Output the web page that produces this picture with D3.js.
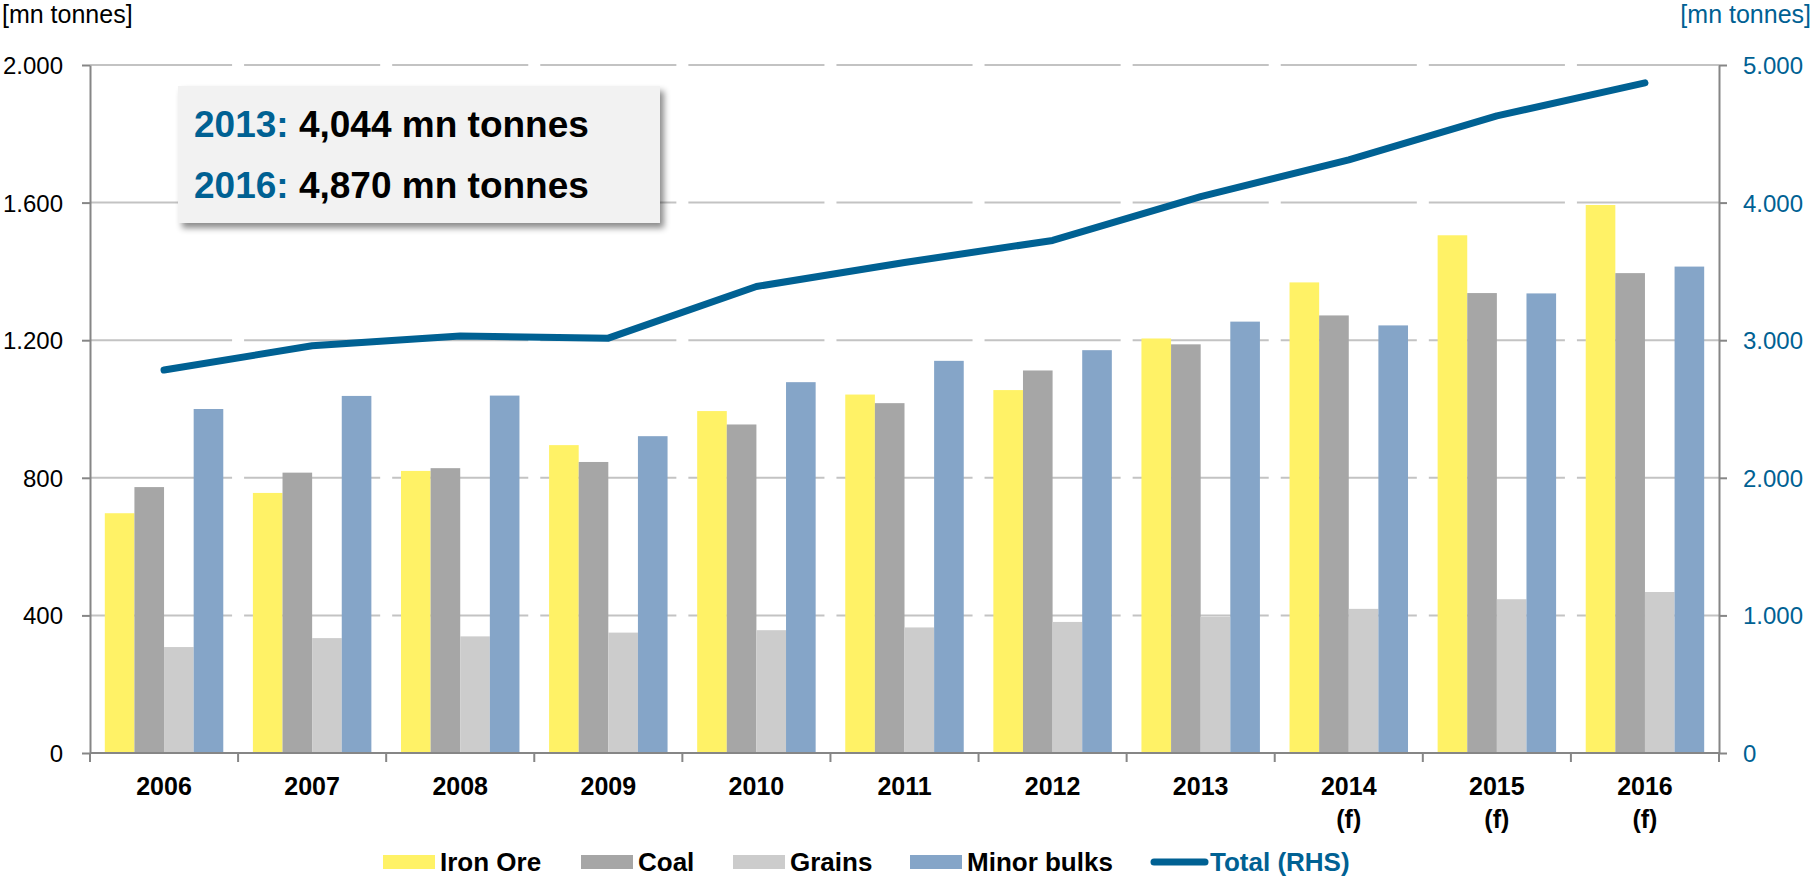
<!DOCTYPE html>
<html lang="en">
<head>
    <meta charset="UTF-8">
    <title>Dry bulk trade</title>
    <script src="https://d3js.org/d3.v7.min.js"></script>
    <style>
        body { margin: 0; background: #fff; }
        svg text { font-family: "Liberation Sans", Arial, sans-serif; }
    </style>
</head>
<body>
    <div id="chart"></div>
    <script>
        "use strict";

        // data
        let years = ['2006', '2007', '2008', '2009', '2010', '2011', '2012', '2013', '2014', '2015', '2016'];
        let yearLabels = ['2006', '2007', '2008', '2009', '2010', '2011', '2012', '2013', '2014|(f)', '2015|(f)', '2016|(f)'];
        let ironOre    = [697, 756, 820, 895, 994, 1042, 1055, 1205, 1368, 1505, 1593];
        let coal       = [773, 815, 828, 846, 955, 1017, 1112, 1188, 1272, 1337, 1395];
        let grains     = [308, 334, 339, 350, 357, 365, 381, 396, 419, 447, 468];
        let minorBulks = [1000, 1038, 1039, 921, 1078, 1140, 1171, 1254, 1243, 1336, 1414];
        let total      = [2783, 2960, 3030, 3015, 3390, 3565, 3725, 4044, 4310, 4630, 4870];
        let leftTicks  = [0, 400, 800, 1200, 1600, 2000];
        let rightTicks = [0, 1000, 2000, 3000, 4000, 5000];
        let seriesNames = ['Iron Ore', 'Coal', 'Grains', 'Minor bulks'];
        let seriesColours = ['#FFF266', '#A6A6A6', '#CCCCCC', '#85A5C8'];
        let lineColour = '#006193';
        let noteLines = [['2013:', '4,044 mn tonnes'], ['2016:', '4,870 mn tonnes']];

        let svgWidth = 1813, svgHeight = 876;
        let margin = {top: 65, right: 94, bottom: 123, left: 90};
        let width = svgWidth - margin.left - margin.right;
        let height = svgHeight - margin.top - margin.bottom;

        function translate(x, y) {
            return 'translate(' + x + ', ' + y + ')';
        }

        let dotFormat = d3.formatLocale({decimal: ',', thousands: '.', grouping: [3], currency: ['', '']}).format(',d');

        let svg = d3.select('#chart').append('svg')
            .attr('width', svgWidth)
            .attr('height', svgHeight);

        let defs = svg.append('defs');
        let shadow = defs.append('filter').attr('id', 'shadow')
            .attr('x', '-10%').attr('y', '-10%').attr('width', '130%').attr('height', '140%');
        shadow.append('feDropShadow')
            .attr('dx', 4).attr('dy', 5).attr('stdDeviation', 3)
            .attr('flood-color', '#000').attr('flood-opacity', 0.45);

        let g = svg.append('g').attr('transform', translate(margin.left, margin.top));

        let xCat = d3.scaleBand().domain(years).range([0, width]);
        let x0 = d3.scaleBand().domain(years).range([0, width]).paddingInner(0.2).paddingOuter(0.1);
        let x1 = d3.scaleBand().domain(seriesNames).range([0, x0.bandwidth()]);
        let yL = d3.scaleLinear().domain([0, 2000]).range([height, 0]);
        let yR = d3.scaleLinear().domain([0, 5000]).range([height, 0]);
        let colour = d3.scaleOrdinal().domain(seriesNames).range(seriesColours);

        // dashed gridlines, broken at every category boundary
        let gridSegs = [];
        leftTicks.filter(t => t > 0).forEach(t => {
            years.forEach((yr, i) => {
                let a = xCat(yr), b = xCat(yr) + xCat.step();
                gridSegs.push({
                    y: yL(t),
                    x1: i === 0 ? a : a + 6,
                    x2: i === years.length - 1 ? b : b - 6
                });
            });
        });
        g.append('g').selectAll('line').data(gridSegs).enter().append('line')
            .attr('x1', d => d.x1).attr('x2', d => d.x2)
            .attr('y1', d => d.y).attr('y2', d => d.y)
            .attr('stroke', '#C3C3C3').attr('stroke-width', 2);

        // bars
        let seriesData = [ironOre, coal, grains, minorBulks];
        let barData = [];
        years.forEach((yr, i) => {
            seriesNames.forEach((s, j) => {
                barData.push({year: yr, name: s, value: seriesData[j][i]});
            });
        });
        g.append('g').selectAll('rect').data(barData).enter().append('rect')
            .attr('x', d => x0(d.year) + x1(d.name))
            .attr('y', d => yL(d.value))
            .attr('width', x1.bandwidth())
            .attr('height', d => height - yL(d.value))
            .style('fill', d => colour(d.name));

        // total line
        let line = d3.line()
            .x((d, i) => xCat(years[i]) + xCat.bandwidth() / 2)
            .y(d => yR(d));
        g.append('path').datum(total)
            .attr('d', line)
            .attr('fill', 'none')
            .attr('stroke', lineColour)
            .attr('stroke-width', 7)
            .attr('stroke-linecap', 'round')
            .attr('stroke-linejoin', 'round');

        // left axis
        let leftAxis = g.append('g')
            .call(d3.axisLeft(yL).tickValues(leftTicks).tickFormat(dotFormat).tickSize(8).tickSizeOuter(0).tickPadding(19));
        leftAxis.selectAll('text').attr('font-size', 24).attr('fill', '#000').attr('dy', '0.35em');

        // right axis
        let rightAxis = g.append('g')
            .attr('transform', translate(width, 0))
            .call(d3.axisRight(yR).tickValues(rightTicks).tickFormat(dotFormat).tickSize(8).tickSizeOuter(0).tickPadding(16));
        rightAxis.selectAll('text').attr('font-size', 24).attr('fill', lineColour).attr('dy', '0.35em');

        // bottom axis, ticks at the category boundaries
        let bottom = g.append('g').attr('transform', translate(0, height));
        bottom.append('line')
            .attr('x1', 0).attr('x2', width)
            .attr('stroke', '#868686').attr('stroke-width', 2);
        let bounds = years.map(yr => xCat(yr)).concat([width]);
        bottom.selectAll('.btick').data(bounds).enter().append('line')
            .attr('class', 'btick')
            .attr('x1', d => d).attr('x2', d => d)
            .attr('y1', 0).attr('y2', 9)
            .attr('stroke', '#868686').attr('stroke-width', 2);
        let labels = bottom.selectAll('.blabel').data(years).enter().append('text')
            .attr('class', 'blabel')
            .attr('x', d => xCat(d) + xCat.bandwidth() / 2)
            .attr('y', 42)
            .attr('text-anchor', 'middle')
            .attr('font-size', 25)
            .attr('font-weight', 'bold');
        labels.each(function(d, i) {
            let parts = yearLabels[i].split('|');
            let t = d3.select(this);
            parts.forEach((p, k) => {
                t.append('tspan')
                    .attr('x', xCat(d) + xCat.bandwidth() / 2)
                    .attr('dy', k === 0 ? 0 : 33)
                    .text(p);
            });
        });

        g.selectAll('.domain').attr('stroke', '#868686').attr('stroke-width', 2);
        g.selectAll('.tick line').attr('stroke', '#868686').attr('stroke-width', 2);

        // unit labels
        svg.append('text').attr('x', 2).attr('y', 23)
            .attr('font-size', 25).attr('fill', '#000')
            .text('[mn tonnes]');
        svg.append('text').attr('x', 1811).attr('y', 23)
            .attr('text-anchor', 'end')
            .attr('font-size', 25).attr('fill', lineColour)
            .text('[mn tonnes]');

        // annotation box
        svg.append('rect')
            .attr('x', 178).attr('y', 86)
            .attr('width', 482).attr('height', 137)
            .attr('fill', '#F2F2F2')
            .attr('filter', 'url(#shadow)');
        noteLines.forEach((n, i) => {
            let t = svg.append('text')
                .attr('x', 194).attr('y', 137 + i * 61)
                .attr('font-size', 37).attr('font-weight', 'bold');
            t.append('tspan').attr('fill', lineColour).text(n[0]);
            t.append('tspan').attr('fill', '#000').text(' ' + n[1]);
        });

        // legend
        let legendX = [383, 581, 733, 910];
        let legend = svg.append('g');
        seriesNames.forEach((s, i) => {
            legend.append('rect')
                .attr('x', legendX[i]).attr('y', 855)
                .attr('width', 52).attr('height', 14)
                .attr('fill', colour(s));
            legend.append('text')
                .attr('x', legendX[i] + 57).attr('y', 871)
                .attr('font-size', 26).attr('font-weight', 'bold')
                .text(s);
        });
        legend.append('line')
            .attr('x1', 1154).attr('x2', 1205)
            .attr('y1', 862).attr('y2', 862)
            .attr('stroke', lineColour).attr('stroke-width', 7)
            .attr('stroke-linecap', 'round');
        legend.append('text')
            .attr('x', 1210).attr('y', 871)
            .attr('font-size', 26).attr('font-weight', 'bold')
            .attr('fill', lineColour)
            .text('Total (RHS)');
    </script>
</body>
</html>
